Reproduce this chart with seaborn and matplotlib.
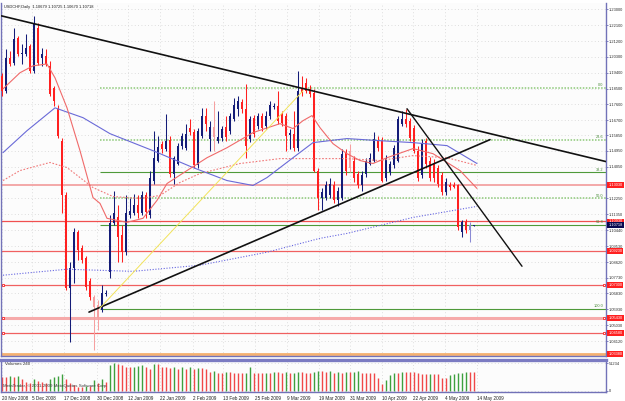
import numpy as np
import matplotlib
matplotlib.use('Agg')
import matplotlib.pyplot as plt
import seaborn as sns

sns.set_style('white')
plt.rcParams['font.family'] = ['Liberation Sans', 'DejaVu Sans']

# USDCHF daily bars (bar 0 = 20 Nov 2008)
opens = [1.1923, 1.1837, 1.2024, 1.1996, 1.2138, 1.2047, 1.2047, 1.2093, 1.1951, 1.2195,
         1.2024, 1.2036, 1.1979, 1.1854, 1.1735, 1.1553, 1.1241, 1.0713, 1.0827, 1.1031,
         1.0941, 1.0884, 1.0752, 1.0662, 1.0617, 1.0588, 1.0679, 1.0804, 1.1082, 1.1116,
         1.1014, 1.0918, 1.1128, 1.1139, 1.1185, 1.1139, 1.1241, 1.1128, 1.1326, 1.1440,
         1.1536, 1.1508, 1.1559, 1.1366, 1.1423, 1.1525, 1.1513, 1.1627, 1.1604, 1.1412,
         1.1582, 1.1696, 1.1565, 1.1633, 1.1553, 1.1570, 1.1633, 1.1610, 1.1679, 1.1735,
         1.1774, 1.1735, 1.1565, 1.1684, 1.1639, 1.1696, 1.1639, 1.1696, 1.1746, 1.1752,
         1.1707, 1.1696, 1.1587, 1.1593, 1.1513, 1.1849, 1.1883, 1.1849, 1.1826, 1.1383,
         1.1229, 1.1229, 1.1241, 1.1298, 1.1213, 1.1229, 1.1485, 1.1496, 1.1440, 1.1366,
         1.1298, 1.1366, 1.1423, 1.1440, 1.1553, 1.1553, 1.1338, 1.1372, 1.1412, 1.1440,
         1.1650, 1.1679, 1.1667, 1.1627, 1.1496, 1.1355, 1.1553, 1.1440, 1.1423, 1.1400,
         1.1355, 1.1258, 1.1303, 1.1303, 1.1298, 1.1031, 1.1088, 1.1042, 1.10679]
highs = [1.1940, 1.2076, 1.2064, 1.2195, 1.2150, 1.2104, 1.2161, 1.2104, 1.2263, 1.2224,
         1.2081, 1.2076, 1.2007, 1.1866, 1.1757, 1.1570, 1.1258, 1.0861, 1.1054, 1.1042,
         1.0958, 1.0895, 1.0770, 1.0674, 1.0645, 1.0730, 1.0702, 1.1128, 1.1269, 1.1185,
         1.1071, 1.1241, 1.1224, 1.1252, 1.1241, 1.1269, 1.1258, 1.1383, 1.1610, 1.1582,
         1.1553, 1.1707, 1.1582, 1.1468, 1.1542, 1.1599, 1.1650, 1.1679, 1.1622, 1.1627,
         1.1740, 1.1740, 1.1667, 1.1780, 1.1724, 1.1639, 1.1696, 1.1713, 1.1797, 1.1809,
         1.1792, 1.1877, 1.1696, 1.1701, 1.1713, 1.1713, 1.1724, 1.1780, 1.1769, 1.1837,
         1.1724, 1.1713, 1.1622, 1.1724, 1.1951, 1.1923, 1.1911, 1.1871, 1.1849, 1.1395,
         1.1281, 1.1326, 1.1338, 1.1326, 1.1292, 1.1508, 1.1508, 1.1536, 1.1468, 1.1383,
         1.1383, 1.1456, 1.1485, 1.1604, 1.1582, 1.1576, 1.1473, 1.1440, 1.1530, 1.1696,
         1.1724, 1.1735, 1.1684, 1.1644, 1.1525, 1.1565, 1.1570, 1.1462, 1.1451, 1.1412,
         1.1372, 1.1338, 1.1315, 1.1320, 1.1309, 1.1099, 1.1105, 1.1088, 1.10725]
lows = [1.1809, 1.1826, 1.1979, 1.1984, 1.2036, 1.1990, 1.2036, 1.1940, 1.1940, 1.1984,
        1.1979, 1.1979, 1.1809, 1.1752, 1.1570, 1.1139, 1.0702, 1.0407, 1.0741, 1.0872,
        1.0855, 1.0702, 1.0645, 1.0361, 1.0475, 1.0577, 1.0668, 1.0770, 1.1071, 1.0861,
        1.0861, 1.0901, 1.1111, 1.1128, 1.1111, 1.1128, 1.1111, 1.1111, 1.1309, 1.1429,
        1.1485, 1.1496, 1.1349, 1.1309, 1.1412, 1.1508, 1.1502, 1.1587, 1.1395, 1.1400,
        1.1570, 1.1610, 1.1496, 1.1496, 1.1542, 1.1553, 1.1553, 1.1593, 1.1667, 1.1696,
        1.1713, 1.1456, 1.1547, 1.1576, 1.1622, 1.1610, 1.1622, 1.1679, 1.1735, 1.1650,
        1.1639, 1.1496, 1.1508, 1.1496, 1.1496, 1.1809, 1.1826, 1.1803, 1.1372, 1.1156,
        1.1156, 1.1213, 1.1224, 1.1196, 1.1179, 1.1213, 1.1360, 1.1372, 1.1315, 1.1281,
        1.1269, 1.1349, 1.1412, 1.1429, 1.1496, 1.1315, 1.1326, 1.1355, 1.1395, 1.1429,
        1.1639, 1.1633, 1.1553, 1.1485, 1.1326, 1.1338, 1.1395, 1.1326, 1.1315, 1.1292,
        1.1241, 1.1246, 1.1275, 1.1281, 1.1042, 1.1002, 1.1025, 1.0975, 1.10670]
closes = [1.1837, 1.2024, 1.1990, 1.2133, 1.2047, 1.2053, 1.2081, 1.1951, 1.2218, 1.1996,
          1.2047, 1.1990, 1.1820, 1.1780, 1.1582, 1.1241, 1.0713, 1.0827, 1.1031, 1.0929,
          1.0872, 1.0718, 1.0662, 1.0605, 1.0543, 1.0685, 1.0685, 1.1082, 1.1139, 1.1002,
          1.0918, 1.1139, 1.1150, 1.1185, 1.1139, 1.1241, 1.1145, 1.1338, 1.1456, 1.1519,
          1.1508, 1.1553, 1.1366, 1.1456, 1.1525, 1.1582, 1.1593, 1.1604, 1.1412, 1.1610,
          1.1696, 1.1650, 1.1633, 1.1576, 1.1576, 1.1622, 1.1576, 1.1696, 1.1757, 1.1780,
          1.1735, 1.1525, 1.1679, 1.1593, 1.1696, 1.1627, 1.1696, 1.1757, 1.1752, 1.1667,
          1.1656, 1.1582, 1.1599, 1.1513, 1.1837, 1.1826, 1.1837, 1.1820, 1.1383, 1.1229,
          1.1258, 1.1298, 1.1309, 1.1213, 1.1269, 1.1479, 1.1383, 1.1400, 1.1338, 1.1298,
          1.1355, 1.1440, 1.1456, 1.1565, 1.1513, 1.1326, 1.1456, 1.1423, 1.1513, 1.1679,
          1.1679, 1.1650, 1.1570, 1.1496, 1.1343, 1.1542, 1.1423, 1.1343, 1.1338, 1.1309,
          1.1258, 1.1315, 1.1292, 1.1292, 1.1059, 1.1088, 1.1042, 1.1071, 1.10718]
pale_bars = [23, 24, 53, 87, 117]

volumes = [26230, 26230, 27450, 26230, 27450, 21350, 17080, 14030, 21350, 18910,
           17080, 15250, 21350, 25010, 27450, 31110, 21350, 14030, 10980, 7930,
           7930, 9150, 9150, 20130, 15250, 21350, 17080, 47580, 51234, 49410,
           47580, 44530, 43310, 44530, 45750, 47580, 44530, 39650, 48800, 48800,
           43310, 43310, 41480, 43310, 39650, 43310, 39650, 43310, 39650, 41480,
           41480, 39650, 35380, 37210, 33550, 33550, 34770, 34770, 33550, 32330,
           32330, 33550, 43310, 33550, 33550, 32330, 33550, 33550, 35380, 35380,
           33550, 35380, 32330, 33550, 35380, 35380, 33550, 32330, 35380, 37210,
           37210, 35380, 37210, 33550, 35380, 33550, 34770, 34770, 35380, 37210,
           33550, 33550, 33550, 32330, 23180, 12810, 20130, 29280, 33550, 33550,
           35380, 35380, 35380, 34770, 32330, 31110, 30500, 31110, 31110, 31110,
           23180, 23180, 29280, 30500, 32330, 33550, 35380, 35380, 34160]

# moving averages (bar position, price)
fast_x = [0.25, 4.5, 7.75, 11.25, 13.25, 16.25, 19.5, 22.75, 24.5, 26.25, 31.25, 35.25,
          38.75, 41.25, 46.25, 51.25, 56.25, 62.75, 69.5, 72.75, 75.25, 77.5, 79.5, 82.75,
          86.25, 89.5, 92.75, 96.25, 102.75, 107.75, 114.5, 118.75]
fast_y = [1.1848, 1.1940, 1.1979, 1.1990, 1.1911, 1.1740, 1.1496, 1.1229, 1.1196, 1.1111,
          1.1088, 1.1111, 1.1213, 1.1309, 1.1383, 1.1456, 1.1513, 1.1599, 1.1650, 1.1622,
          1.1667, 1.1696, 1.1627, 1.1536, 1.1479, 1.1440, 1.1423, 1.1456, 1.1508, 1.1479,
          1.1383, 1.1281]
slow_x = [0.25, 4.5, 12, 16.25, 22.75, 27.75, 34.5, 39.5, 44.5, 49.5, 59.5, 69.5, 77.75,
          86.25, 94.5, 102.75, 111.25, 118.75]
slow_y = [1.1326, 1.1383, 1.1429, 1.1400, 1.1286, 1.1235, 1.1224, 1.1241, 1.1315, 1.1366,
          1.1423, 1.1451, 1.1451, 1.1451, 1.1440, 1.1468, 1.1456, 1.1412]
mid_x = [0.25, 6.25, 13.25, 20.25, 27, 37.75, 47.75, 56.25, 62.75, 66.25, 72.75, 77.75,
         86.25, 94.5, 102.75, 111.25, 118.75]
mid_y = [1.1485, 1.1610, 1.1740, 1.1684, 1.1593, 1.1496, 1.1400, 1.1326, 1.1298, 1.1343,
         1.1456, 1.1542, 1.1565, 1.1553, 1.1542, 1.1525, 1.1423]
long_x = [0.25, 16.25, 32.75, 49.5, 66.25, 79.5, 86.25, 102.75, 118.75]
long_y = [1.0787, 1.0821, 1.0809, 1.0844, 1.0918, 1.0997, 1.1025, 1.1116, 1.1179]

# drawn objects
upper_trend = [(0, 1.2263), (74.5, 1.1854)]
lower_trend = [(21.75, 1.0577), (122, 1.1559)]
steep_trend = [(101.25, 1.1735), (130, 1.0838)]
yellow_trend = [(24.5, 1.0600), (75.25, 1.1837)]
fib_high, fib_low, fib_start = 1.1854, 1.0594, 24.5
fib_levels = [0.0, 23.6, 38.2, 50.0, 61.8, 100.0]
fib_solid = [False, False, True, False, True, True]
red_levels = [1.1303, 1.1093, 1.0923, 1.0730, 1.0543, 1.0458, 1.0338]
red_colors = ['#f29a9a', '#f05050', '#f06060', '#f06060', '#f6aaaa', '#f06060', '#f5b070']
red_widths = [1.2, 0.9, 0.9, 0.9, 2.2, 0.9, 2.0]
marked_levels = [1.0730, 1.0543, 1.0458]
bid = 1.10718

# 1.1315 sits under the red price box, as on the chart
price_ticks = [1.2300, 1.2210, 1.2120, 1.2030, 1.1940, 1.1850, 1.1760, 1.1670, 1.1585,
               1.1495, 1.1405, 1.1225, 1.1135, 1.1044, 1.0953, 1.0862, 1.0773,
               1.0683, 1.0593, 1.0503, 1.0412]
date_pos = [-0.1, 7.5, 15.5, 23.75, 31.5, 39.5, 47.75, 55.25, 63.25, 71.25, 79.25, 87,
            95, 102.75, 110.75, 118.75]
date_labels = ['20 Nov 2008', '5 Dec 2008', '17 Dec 2008', '30 Dec 2008', '12 Jan 2009',
               '22 Jan 2009', '2 Feb 2009', '13 Feb 2009', '25 Feb 2009', '9 Mar 2009',
               '19 Mar 2009', '31 Mar 2009', '10 Apr 2009', '22 Apr 2009', '4 May 2009',
               '14 May 2009']

NAVY = '#141c78'
RED = '#ff2020'
FRAME = '#7272b8'
GREEN = '#4f9a3a'
LGREEN = '#8cc878'

fig = plt.figure(figsize=(6.25, 4.01), dpi=100)
fig.patch.set_facecolor('white')
ax = fig.add_axes([1.5 / 625, 45 / 401, 604.5 / 625, 353 / 401])
axv = fig.add_axes([1.5 / 625, 9 / 401, 604.5 / 625, 32 / 401])

for a in (ax, axv):
    a.set_facecolor('#fcfcfc')
    a.set_xlim(-0.125, 151)
    for s in a.spines.values():
        s.set_color(FRAME)
        s.set_linewidth(1.0)
    a.grid(True, ls=(0, (1, 3)), color='#d4d4d4', lw=0.6)
    a.set_axisbelow(True)
    a.set_xticks(date_pos)
    a.yaxis.tick_right()
    a.tick_params(axis='y', right=True, length=1.5, width=0.6, color=FRAME,
                  labelsize=2.9, pad=0.8, labelcolor='#303030')
ax.spines['top'].set_visible(False)
axv.spines['top'].set_linewidth(2.4)
axv.spines['top'].set_color('#7b7bc2')

ax.set_ylim(1.0327, 1.2337)
ax.set_yticks(price_ticks)
ax.set_yticklabels(['%.5f' % t for t in price_ticks])
ax.tick_params(axis='x', length=0, labelbottom=False)

# horizontal lines and fibo
for p, c, w in zip(red_levels, red_colors, red_widths):
    ax.axhline(p, color=c, lw=w, zorder=1)
for p in marked_levels:
    ax.plot([0.35, 150.5], [p, p], 's', ms=1.8, mfc='white', mec=RED, mew=0.6, zorder=2)
fib_rng = fib_high - fib_low
for lv, solid in zip(fib_levels, fib_solid):
    p = fib_high - lv / 100 * fib_rng
    ax.hlines(p, fib_start, 151, color=GREEN if solid else LGREEN,
              lw=0.8 if solid else 1.1, ls='-' if solid else (0, (1, 1)), zorder=1)
    ax.text(150.4, p + 0.0004, '%.1f' % lv, ha='right', va='bottom', fontsize=2.8,
            color='#4a8a3a')

# candles
idx = np.arange(len(opens))
o = np.array(opens); c = np.array(closes); h = np.array(highs); l = np.array(lows)
up = c >= o
cols = np.where(up, NAVY, RED).astype(object)
for b in pale_bars:
    cols[b] = '#8a8ad4' if up[b] else '#f6a0a0'
ax.vlines(idx, l, h, colors=list(cols), lw=0.75, zorder=3)
ax.bar(idx, np.maximum(np.abs(c - o), 0.0006), bottom=np.minimum(o, c), width=0.7,
       color=list(cols), lw=0, zorder=3)

# moving averages
sns.lineplot(x=long_x, y=long_y, ax=ax, color='#6464e0', lw=0.8, ls=(0, (1, 1.5)), zorder=4)
sns.lineplot(x=slow_x, y=slow_y, ax=ax, color='#f07878', lw=0.8, ls=(0, (1.5, 1.5)), zorder=4)
sns.lineplot(x=mid_x, y=mid_y, ax=ax, color='#6a6ad8', lw=0.8, zorder=4)
sns.lineplot(x=fast_x, y=fast_y, ax=ax, color='#f06a6a', lw=0.8, zorder=4)

# trend lines
ax.axline(upper_trend[0], upper_trend[1], color='#111111', lw=1.2, zorder=5)
for seg, col, w in [(lower_trend, '#111111', 1.2), (steep_trend, '#111111', 1.0),
                    (yellow_trend, '#f2e35a', 0.7)]:
    sns.lineplot(x=[seg[0][0], seg[1][0]], y=[seg[0][1], seg[1][1]], ax=ax, color=col,
                 lw=w, zorder=5)

# price labels on the axis
ytr = ax.get_yaxis_transform()
for p in red_levels:
    ax.text(1.004, p, '%.5f' % p, transform=ytr, ha='left', va='center', fontsize=2.8,
            color='white', clip_on=False,
            bbox=dict(boxstyle='square,pad=0.25', fc='#ff2020', ec='none'))
ax.text(1.004, bid, '%.5f' % bid, transform=ytr, ha='left', va='center', fontsize=2.8,
        color='white', clip_on=False,
        bbox=dict(boxstyle='square,pad=0.25', fc='#0a0a50', ec='none'))

ax.text(0.004, 0.995, 'USDCHF,Daily  1.10679 1.10725 1.10670 1.10718',
        transform=ax.transAxes, ha='left', va='top', fontsize=2.9, color='#202020')

# volumes
v = np.array(volumes)
vup = np.r_[False, v[1:] > v[:-1]]
vcols = np.where(vup, '#3ea03e', '#f04848')
axv.vlines(idx, 0, v, colors=list(vcols), lw=1.0)
axv.set_ylim(-1830, 56724)
axv.set_yticks([0, max(volumes)])
axv.set_yticklabels(['0', str(max(volumes))])
axv.set_xticklabels(date_labels)
axv.tick_params(axis='x', length=2, width=0.6, color=FRAME, labelsize=3.3, pad=0.8,
                labelcolor='#202020')
for t in axv.get_xticklabels():
    t.set_ha('left')
axv.text(0.005, 0.93, 'Volumes 240', transform=axv.transAxes, ha='left', va='top',
         fontsize=3.2, color='#303030')
axv.text(0.003, 0.12, 'MetaTrader, \u00a9 2001-2009 MetaQuotes Software Corp.',
         transform=axv.transAxes, ha='left', va='bottom', fontsize=3.2, color='#404040')

fig.savefig('out.png', dpi=100, facecolor='white')
